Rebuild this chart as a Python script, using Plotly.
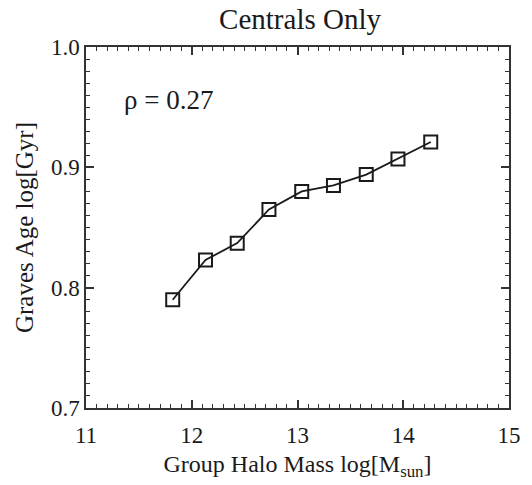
import plotly.graph_objects as go

# Binned central-galaxy ages versus group halo mass
halo_mass = [11.82, 12.13, 12.43, 12.73, 13.04, 13.34, 13.65, 13.95, 14.26]
log_age = [0.790, 0.823, 0.837, 0.865, 0.880, 0.885, 0.894, 0.907, 0.921]

rho_text = "ρ = 0.27"

FONT = "Liberation Serif"
INK = "#1a1a1a"
FRAME = "#333333"
X_RANGE = [11, 15]
Y_RANGE = [0.7, 1.0]

fig = go.Figure()
fig.add_trace(go.Scatter(
    x=halo_mass, y=log_age,
    mode="lines+markers",
    line=dict(color=INK, width=1.8),
    marker=dict(symbol="square-open", size=13, color=INK, line=dict(width=2, color=INK)),
    showlegend=False,
))
# invisible copy on the overlay axes that carry the fine tick marks
fig.add_trace(go.Scatter(
    x=halo_mass, y=log_age, xaxis="x2", yaxis="y2",
    mode="markers", marker=dict(opacity=0), hoverinfo="skip", showlegend=False,
))

fig.add_annotation(
    x=11.34, y=0.956, xref="x", yref="y",
    text=rho_text, showarrow=False, xanchor="left", yanchor="middle",
    font=dict(family=FONT, size=27, color=INK),
)

axis_common = dict(
    showgrid=False, zeroline=False,
    showline=True, linecolor=FRAME, linewidth=1.5,
    mirror="ticks", ticks="inside", ticklen=8, tickwidth=1.5, tickcolor=FRAME,
    tickfont=dict(family=FONT, size=23, color=INK),
)

fig.update_layout(
    xaxis=dict(
        **axis_common,
        range=X_RANGE, dtick=1,
        ticklabelstandoff=6,
        title=dict(text="Group Halo Mass log[M<sub>sun</sub>]",
                   font=dict(family=FONT, size=24, color=INK), standoff=8),
    ),
    yaxis=dict(
        **axis_common,
        range=Y_RANGE, dtick=0.1, tickformat=".1f",
        title=dict(text="Graves Age log[Gyr]",
                   font=dict(family=FONT, size=25, color=INK), standoff=10),
    ),
    # minor tick marks: 0.1 steps in mass, 0.01 steps in age
    xaxis2=dict(
        overlaying="x", anchor="y2", side="bottom", range=X_RANGE, dtick=0.1,
        showgrid=False, zeroline=False, showline=False, showticklabels=False,
        ticks="inside", ticklen=4, tickwidth=1.2, tickcolor=FRAME, mirror="ticks",
    ),
    yaxis2=dict(
        overlaying="y", anchor="x2", side="left", range=Y_RANGE, dtick=0.01,
        showgrid=False, zeroline=False, showline=False, showticklabels=False,
        ticks="inside", ticklen=4, tickwidth=1.2, tickcolor=FRAME, mirror="ticks",
    ),
    width=532, height=485,
    margin=dict(l=86, r=23, t=47, b=77),
    paper_bgcolor="white", plot_bgcolor="white",
    title=dict(text="Centrals Only", x=0.564, xanchor="center", y=0.962, yanchor="middle",
               font=dict(family=FONT, size=29, color=INK)),
)

fig.write_html("out.html")
